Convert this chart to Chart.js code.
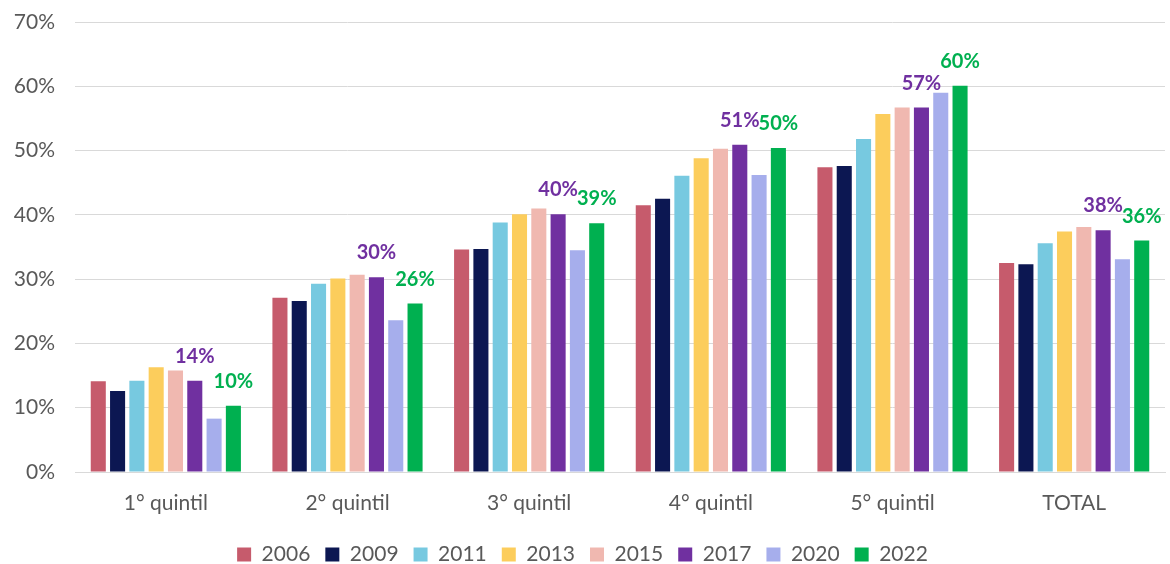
<!DOCTYPE html>
<html>
<head>
<meta charset="utf-8">
<script src="https://cdn.jsdelivr.net/npm/chart.js@4"></script>
<style>
  body { margin: 0; background: #fff; }
</style>
</head>
<body>
<canvas id="chart" width="1170" height="564"></canvas>
<script>
// categories and yearly series (% of population)
const categories = ['1° quintil', '2° quintil', '3° quintil', '4° quintil', '5° quintil', 'TOTAL'];
const years = ['2006', '2009', '2011', '2013', '2015', '2017', '2020', '2022'];

const v2006 = [14.1, 27.1, 34.6, 41.5, 47.4, 32.5];
const v2009 = [12.6, 26.6, 34.7, 42.5, 47.6, 32.3];
const v2011 = [14.2, 29.3, 38.8, 46.1, 51.8, 35.6];
const v2013 = [16.3, 30.1, 40.1, 48.8, 55.7, 37.4];
const v2015 = [15.8, 30.7, 41.0, 50.3, 56.7, 38.1];
const v2017 = [14.2, 30.3, 40.1, 50.9, 56.7, 37.6];
const v2020 = [8.3, 23.6, 34.5, 46.2, 59.0, 33.1];
const v2022 = [10.3, 26.2, 38.7, 50.4, 60.1, 36.0];

const yTicks = [0, 10, 20, 30, 40, 50, 60, 70];

const colors = ['#C65B6C', '#0C1752', '#77C9E0', '#FCCD5C', '#F0B8B0', '#7030A0', '#A6AEEC', '#00B050'];
const series = [v2006, v2009, v2011, v2013, v2015, v2017, v2020, v2022];
// only these years carry value labels
const labelled = ['2017', '2022'];

const FONT = 'Lato, "Open Sans", sans-serif';

// draws rounded % above the labelled bars
const barLabels = {
    id: 'barLabels',
    afterDatasetsDraw(chart) {
        const ctx = chart.ctx;
        ctx.save();
        ctx.font = 'bold 20px ' + FONT;
        ctx.textAlign = 'center';
        ctx.textBaseline = 'alphabetic';
        chart.data.datasets.forEach((ds, i) => {
            if (!labelled.includes(ds.label)) return;
            const meta = chart.getDatasetMeta(i);
            ctx.fillStyle = ds.backgroundColor;
            meta.data.forEach((bar, j) => {
                ctx.fillText(Math.round(ds.data[j]) + '%', bar.x, bar.y - 18);
            });
        });
        ctx.restore();
    }
};

const ctx = document.getElementById('chart').getContext('2d');
new Chart(ctx, {
    type: 'bar',
    data: {
        labels: categories,
        datasets: years.map((y, i) => ({
            label: y,
            data: series[i],
            backgroundColor: colors[i],
            categoryPercentage: 0.85,
            barPercentage: 0.78
        }))
    },
    options: {
        responsive: false,
        animation: false,
        layout: { padding: { top: 0, right: 5, left: 0, bottom: -11 } },
        plugins: {
            legend: {
                position: 'bottom',
                labels: {
                    boxWidth: 14,
                    boxHeight: 14,
                    padding: 15,
                    color: '#595959',
                    font: { family: FONT, size: 21 }
                }
            },
            tooltip: { enabled: false }
        },
        scales: {
            x: {
                afterFit(s) { s.height = 57; },
                grid: { display: false },
                border: { color: '#D9D9D9', width: 1 },
                ticks: { color: '#595959', padding: 11, font: { family: FONT, size: 21 } }
            },
            y: {
                min: 0,
                max: 70,
                afterFit(s) { s.width = 75; s.paddingTop = 22; },
                afterBuildTicks(s) { s.ticks = yTicks.map(v => ({ value: v })); },
                grid: { color: '#D9D9D9', drawTicks: false },
                border: { display: false },
                ticks: {
                    color: '#595959',
                    padding: 20,
                    font: { family: FONT, size: 21 },
                    callback: v => v + '%'
                }
            }
        }
    },
    plugins: [barLabels]
});
</script>
</body>
</html>
